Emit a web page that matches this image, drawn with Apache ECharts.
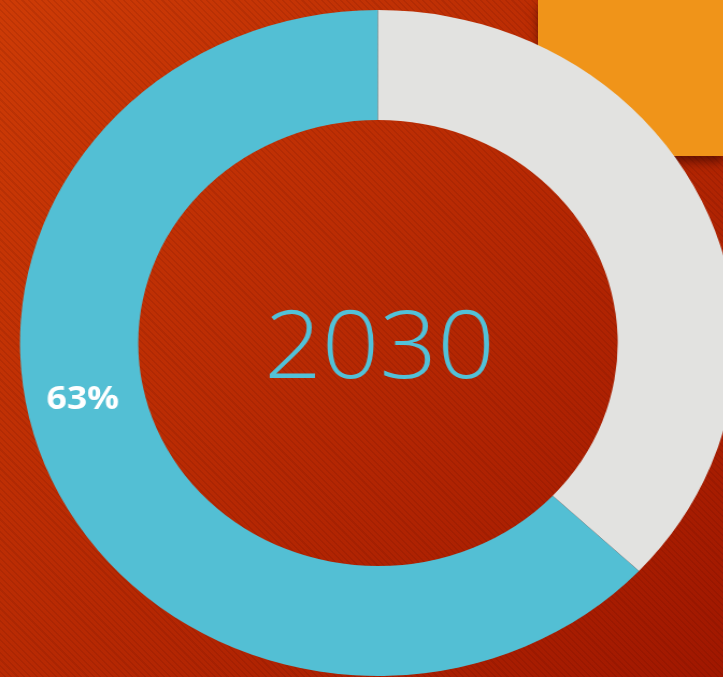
<!DOCTYPE html>
<html>
<head>
<meta charset="utf-8">
<script src="https://cdn.jsdelivr.net/npm/echarts@6/dist/echarts.min.js"></script>
<style>
html, body { margin: 0; padding: 0; width: 723px; height: 677px; overflow: hidden; }
body {
  position: relative;
  background:
    repeating-linear-gradient(45deg, rgba(0,0,0,0) 0px, rgba(0,0,0,0) 3px, rgba(60,0,0,0.10) 3px, rgba(60,0,0,0.10) 4.5px),
    linear-gradient(135deg, #cd3b06 0%, #b72903 50%, #a01700 100%);
}
#box {
  position: absolute; left: 538px; top: 0; width: 185px; height: 156px;
  background: #f09419;
  box-shadow: 0 6px 9px rgba(40,0,0,0.55);
}
#chart {
  position: absolute; left: 0; top: 0;
  width: 672.6px; height: 677px;
  transform: scaleX(1.075); transform-origin: 0 0;
}
</style>
</head>
<body>
<div id="box"></div>
<div id="chart"></div>
<script>
var categories = ['Other', 'Share'];
var values = [37, 63];
var centerText = '2030';

var chart = echarts.init(document.getElementById('chart'), null, { renderer: 'canvas' });
chart.setOption({
  backgroundColor: 'transparent',
  animation: false,
  graphic: [{
    type: 'text',
    x: 353, y: 351,
    style: {
      text: centerText,
      fill: '#52c1d8',
      font: '300 94px "Open Sans", sans-serif',
      textAlign: 'center',
      textVerticalAlign: 'middle'
    },
    z: 10
  }],
  series: [{
    type: 'pie',
    center: [351.6, 343],
    radius: [223, 333],
    startAngle: 90,
    clockwise: true,
    avoidLabelOverlap: false,
    labelLine: { show: false },
    emphasis: { disabled: true },
    data: categories.map(function (c, i) {
      return {
        name: c,
        value: values[i],
        itemStyle: { color: i === 0 ? '#e2e2e0' : '#53bfd4' },
        label: {
          show: i === 1,
          position: 'inside',
          formatter: '{d}%',
          color: '#ffffff',
          fontFamily: 'Open Sans',
          fontWeight: 'bold',
          fontSize: 33
        }
      };
    }),
    labelLayout: function (params) {
      if (params.dataIndex === 1) { return { x: 77, y: 400, align: 'center', verticalAlign: 'middle' }; }
      return {};
    }
  }]
});
</script>
</body>
</html>
